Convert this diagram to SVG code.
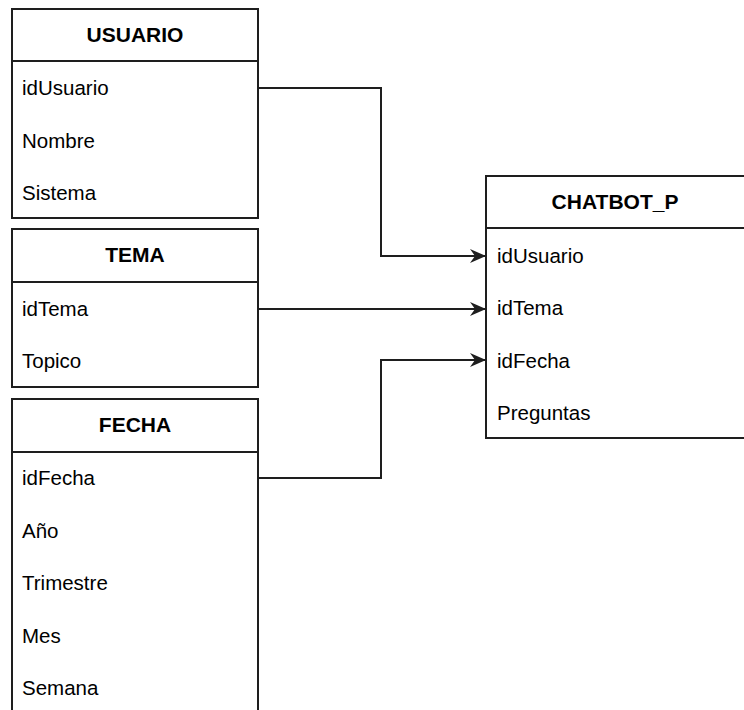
<svg xmlns="http://www.w3.org/2000/svg" width="744" height="710" viewBox="0 0 744 710">
  <style>
    .box { fill: #ffffff; stroke: #1e1e1e; stroke-width: 2; }
    .sep { stroke: #1e1e1e; stroke-width: 2; }
    .title { font-family: "Liberation Sans", Arial, sans-serif; font-size: 21px; font-weight: bold; fill: #000; text-anchor: middle; }
    .field { font-family: "Liberation Sans", Arial, sans-serif; font-size: 20.5px; fill: #000; }
    .link { fill: none; stroke: #1e1e1e; stroke-width: 2; }
  </style>
  <defs>
    <marker id="arrow" viewBox="0 0 16 14" refX="15" refY="7" markerWidth="16" markerHeight="14" markerUnits="userSpaceOnUse" orient="auto">
      <path d="M0,0 L16,7 L0,14 L5,7 Z" fill="#1e1e1e"/>
    </marker>
  </defs>
  <rect width="744" height="710" fill="#ffffff"/>

  <g id="usuario">
    <rect class="box" x="12" y="9" width="246" height="209"/>
    <line class="sep" x1="12" y1="61" x2="258" y2="61"/>
    <text class="title" x="135" y="42">USUARIO</text>
    <text class="field" x="22" y="95">idUsuario</text>
    <text class="field" x="22" y="148">Nombre</text>
    <text class="field" x="22" y="200">Sistema</text>
  </g>

  <g id="tema">
    <rect class="box" x="12" y="229" width="246" height="158"/>
    <line class="sep" x1="12" y1="282" x2="258" y2="282"/>
    <text class="title" x="135" y="262">TEMA</text>
    <text class="field" x="22" y="316">idTema</text>
    <text class="field" x="22" y="368">Topico</text>
  </g>

  <g id="fecha">
    <rect class="box" x="12" y="399" width="246" height="330"/>
    <line class="sep" x1="12" y1="452" x2="258" y2="452"/>
    <text class="title" x="135" y="432">FECHA</text>
    <text class="field" x="22" y="485">idFecha</text>
    <text class="field" x="22" y="538">Año</text>
    <text class="field" x="22" y="590">Trimestre</text>
    <text class="field" x="22" y="643">Mes</text>
    <text class="field" x="22" y="695">Semana</text>
  </g>

  <g id="chatbot_p">
    <rect class="box" x="486" y="176" width="280" height="262"/>
    <line class="sep" x1="486" y1="228" x2="766" y2="228"/>
    <text class="title" x="615" y="209">CHATBOT_P</text>
    <text class="field" x="497" y="263">idUsuario</text>
    <text class="field" x="497" y="315">idTema</text>
    <text class="field" x="497" y="368">idFecha</text>
    <text class="field" x="497" y="420">Preguntas</text>
  </g>

  <g id="connectors">
    <path class="link" d="M258,88 H381 V256 H485" marker-end="url(#arrow)"/>
    <path class="link" d="M258,309 H485" marker-end="url(#arrow)"/>
    <path class="link" d="M258,478 H381 V360 H485" marker-end="url(#arrow)"/>
  </g>
</svg>
